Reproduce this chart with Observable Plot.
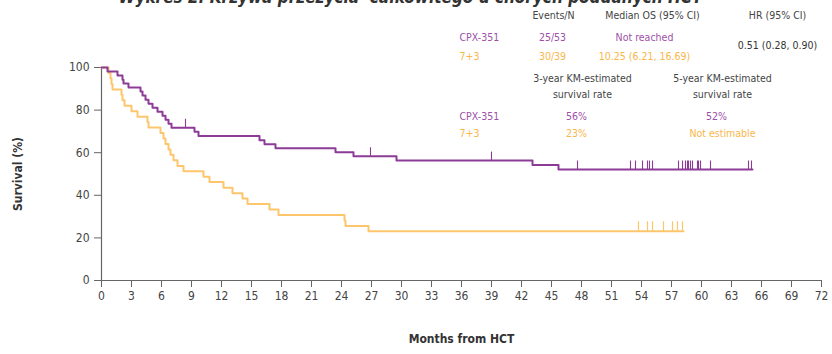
<!DOCTYPE html>
<html><head><meta charset="utf-8">
<script src="https://cdn.jsdelivr.net/npm/d3@7"></script>
<script src="https://cdn.jsdelivr.net/npm/@observablehq/plot@0.6"></script>
<style>
body{margin:0;background:#fff;}
#chart svg{display:block;}
</style>
</head><body><div id="chart"></div>
<script>
// CPX-351 KM step points (months, survival %)
const cpxTimes = [0, 0.6, 1.6, 2.1, 2.2, 2.7, 3.9, 4.1, 4.4, 4.7, 5.1, 5.6, 6.1, 6.4, 6.7, 7.0, 9.3, 9.7, 15.8, 16.3, 17.4, 23.4, 25.2, 29.5, 43.1, 45.7, 65.1];
const cpxSurv  = [100, 98.1, 96.2, 94.3, 92.5, 90.6, 88.7, 86.8, 84.9, 83.0, 81.1, 79.2, 77.4, 75.5, 73.6, 71.7, 69.8, 67.8, 65.9, 64.0, 62.1, 60.2, 58.3, 56.3, 54.2, 52.1, 52.1];
const cpxCensor = [8.4, 26.9, 39.0, 47.6, 52.9, 53.4, 54.1, 54.6, 54.8, 55.1, 57.7, 58.1, 58.4, 58.6, 58.7, 58.9, 59.1, 59.6, 59.7, 59.9, 60.9, 64.7, 65.0];
// 7+3 KM step points
const ctrlTimes = [0, 0.7, 0.9, 1.0, 1.1, 2.0, 2.1, 2.3, 3.0, 3.6, 4.6, 4.7, 5.9, 6.2, 6.4, 6.7, 6.9, 7.2, 7.6, 8.2, 10.2, 10.8, 12.2, 13.1, 14.1, 14.6, 16.8, 17.7, 24.3, 24.4, 26.7, 58.2];
const ctrlSurv  = [100, 97.4, 94.9, 92.3, 89.7, 87.2, 84.6, 82.1, 79.5, 76.9, 74.4, 71.8, 69.2, 66.7, 64.1, 61.5, 59.0, 56.4, 53.8, 51.3, 48.7, 46.2, 43.6, 41.0, 38.5, 35.9, 33.3, 30.8, 28.2, 25.6, 23.1, 23.1];
const ctrlCensor = [53.7, 54.6, 55.1, 56.2, 57.1, 57.6, 58.1];

const xTicks = d3.range(0, 73, 3);
const yTicks = [0, 20, 40, 60, 80, 100];

const seriesNames = ["CPX-351", "7+3"];
const eventsN = ["25/53", "30/39"];
const medianOS = ["Not reached", "10.25 (6.21, 16.69)"];
const hrText = "0.51 (0.28, 0.90)";
const rate3y = ["56%", "23%"];
const rate5y = ["52%", "Not estimable"];
const titleText = "Wykres 2. Krzywa przeżycia  całkowitego u chorych poddanych HCT";

const PURPLE = "#8c3b97", PURPLE_T = "#9e4fa8";
const ORANGE = "#fdc66c", ORANGE_T = "#f9b64a";
const FONT = "'Liberation Sans Narrow','DejaVu Sans Condensed',sans-serif";

const cpx = cpxTimes.map((t,i)=>({t, s:cpxSurv[i]}));
const ctrl = ctrlTimes.map((t,i)=>({t, s:ctrlSurv[i]}));
function survAt(times, surv, t){ let s = surv[0]; for(let i=0;i<times.length;i++){ if(times[i]<=t) s=surv[i]; } return s; }
const cpxC = cpxCensor.map(t=>({t, s:survAt(cpxTimes,cpxSurv,t)}));
const ctrlC = ctrlCensor.map(t=>({t, s:survAt(ctrlTimes,ctrlSurv,t)}));

const txt = (x,y,text,opts)=>Plot.text([text],{x:()=>x,y:()=>y,text:d=>d,fontFamily:FONT,fontSize:10.5,...opts});

const chart = Plot.plot({
  width: 832, height: 354,
  marginLeft: 101, marginRight: 11, marginTop: 67, marginBottom: 74,
  style: {fontFamily: FONT, background:"#fff", overflow:"visible"},
  x: {domain:[0,72]},
  y: {domain:[0,100]},
  marks: [
    Plot.axisX({ticks:xTicks, tickSize:7, tickPadding:4, fontSize:12, color:"#444", stroke:"#666",
      label:"Months from HCT", labelAnchor:"center", labelArrow:"none", labelOffset:62}),
    Plot.axisY({ticks:yTicks, tickSize:7, tickPadding:5, fontSize:12, color:"#444", stroke:"#666",
      label:"Survival (%)", labelAnchor:"center", labelArrow:"none", labelOffset:88}),
    Plot.ruleX([0], {y1:0, y2:100, stroke:"#666", strokeWidth:1.2}),
    Plot.ruleY([0], {x1:0, x2:72, stroke:"#666", strokeWidth:1.2}),
    Plot.line(ctrl, {x:"t", y:"s", curve:"step-after", stroke:ORANGE, strokeWidth:2}),
    Plot.ruleX(ctrlC, {x:"t", y1:"s", y2:d=>d.s+4.5, stroke:ORANGE, strokeWidth:1.2}),
    Plot.line(cpx, {x:"t", y:"s", curve:"step-after", stroke:PURPLE, strokeWidth:2}),
    Plot.ruleX(cpxC, {x:"t", y1:"s", y2:d=>d.s+4, stroke:PURPLE, strokeWidth:1.1}),
    // title (cut off at top, as in the reference)
    txt(30.9, 130.5, titleText, {fontSize:17, fontWeight:"bold", fontStyle:"italic", fill:"#333", lineAnchor:"bottom"}),
    // table header
    txt(45.2, 124.4, "Events/N", {fill:"#444"}),
    txt(55.1, 124.4, "Median OS (95% CI)", {fill:"#444"}),
    txt(67.6, 124.4, "HR (95% CI)", {fill:"#444"}),
    txt(35.8, 114.1, seriesNames[0], {fill:PURPLE_T, textAnchor:"start"}),
    txt(45.1, 114.1, eventsN[0], {fill:PURPLE_T}),
    txt(54.3, 114.1, medianOS[0], {fill:PURPLE_T}),
    txt(67.6, 110.3, hrText, {fill:"#333"}),
    txt(35.8, 105.2, seriesNames[1], {fill:ORANGE_T, textAnchor:"start"}),
    txt(45.1, 105.2, eventsN[1], {fill:ORANGE_T}),
    txt(54.3, 105.2, medianOS[1], {fill:ORANGE_T}),
    // KM rates
    txt(48.1, 94.8, "3-year KM-estimated", {fill:"#444"}),
    txt(48.1, 87.3, "survival rate", {fill:"#444"}),
    txt(62.1, 94.8, "5-year KM-estimated", {fill:"#444"}),
    txt(62.1, 87.3, "survival rate", {fill:"#444"}),
    txt(35.8, 77.0, seriesNames[0], {fill:PURPLE_T, textAnchor:"start"}),
    txt(47.5, 77.0, rate3y[0], {fill:PURPLE_T}),
    txt(61.5, 77.0, rate5y[0], {fill:PURPLE_T}),
    txt(35.8, 69.0, seriesNames[1], {fill:ORANGE_T, textAnchor:"start"}),
    txt(47.5, 69.0, rate3y[1], {fill:ORANGE_T}),
    txt(62.1, 69.0, rate5y[1], {fill:ORANGE_T})
  ]
});
chart.querySelectorAll("[aria-label='x-axis label'] text, [aria-label='y-axis label'] text").forEach(t=>{t.setAttribute("font-weight","bold"); t.setAttribute("font-size","12"); t.setAttribute("fill","#333");});
document.getElementById("chart").appendChild(chart);
</script>
</body></html>
